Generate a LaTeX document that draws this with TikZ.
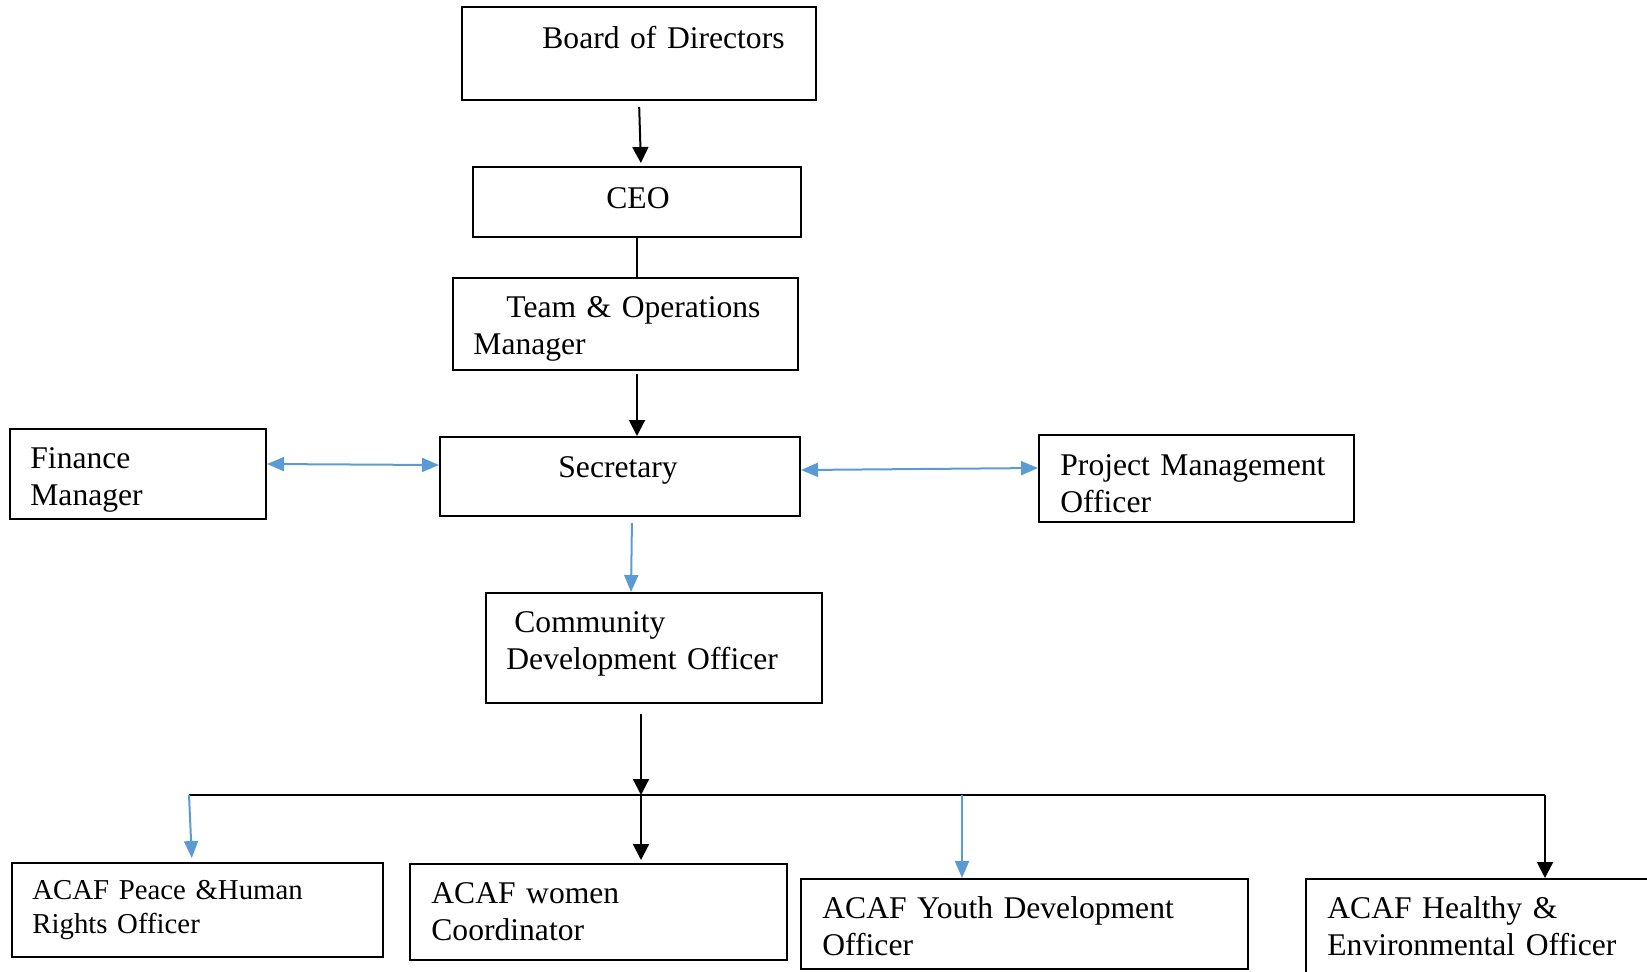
\documentclass[tikz,border=0pt]{standalone}
\usepackage{fontspec}
\setmainfont{Liberation Serif}
\usetikzlibrary{arrows.meta,fit}
\definecolor{wordblue}{RGB}{91,155,213}

\begin{document}
\begin{tikzpicture}[x=0.5pt,y=-0.5pt,
  orgbox/.style={draw,line width=1pt,inner sep=0pt},
  orgtext/.style={anchor=base west,inner sep=0pt,text width=250pt,align=left,font=\fontsize{15.8}{18.5}\selectfont},
  toarrow/.style={line width=1pt,>={Triangle[length=8pt,width=8pt]},->},
  bluearrow/.style={wordblue,line width=1pt,>={Triangle[length=8.5pt,width=7pt]}}]
      \clip (0,0) rectangle (1647,971);

      \node[orgbox,fit={(462,7) (816,100)}] (A) {};
      \node[orgbox,fit={(473,167) (801,237)}] (B) {};
      \node[orgbox,fit={(453,278) (798,370)}] (C) {};
      \node[orgbox,fit={(10,429) (266,519)}] (D) {};
      \node[orgbox,fit={(440,437) (800,516)}] (E) {};
      \node[orgbox,fit={(1039,435) (1354,522)}] (F) {};
      \node[orgbox,fit={(486,593) (822,703)}] (G) {};
      \node[orgbox,fit={(12,863) (383,957)}] (H) {};
      \node[orgbox,fit={(410,864) (787,960)}] (I) {};
      \node[orgbox,fit={(801,879) (1248,969)}] (J) {};
      \node[orgbox,fit={(1306,879) (1700,1010)}] (K) {};

      \node[orgtext] (a) at (542,48) {Board of Directors};
      \node[orgtext] (b) at (606,208) {CEO};
      \node[orgtext] (c) at (473,317) {\hspace*{16.5pt}Team \& Operations\\Manager};
      \node[orgtext] (d) at (30,468) {Finance\\Manager};
      \node[orgtext] (e) at (558,477) {Secretary};
      \node[orgtext] (f) at (1060,475) {Project Management\\Officer};
      \node[orgtext] (g) at (506,632) {\hspace*{4pt}Community\\Development Officer};
      \node[orgtext,font=\fontsize{14.4}{17}\selectfont] (h) at (32,899) {ACAF Peace \&Human\\Rights Officer};
      \node[orgtext] (i) at (431,903) {ACAF women\\Coordinator};
      \node[orgtext] (j) at (822,918) {ACAF Youth Development\\Officer};
      \node[orgtext] (k) at (1327,918) {ACAF Healthy \&\\Environmental Officer};

      \coordinate (L) at (189,795);
      \coordinate (M) at (641,795);
      \coordinate (N) at (962,795);
      \coordinate (R) at (1545,795);

      \draw[toarrow,shorten <=3pt,shorten >=1.5pt] (A.south) -- ([xshift=2pt]B.north);
      \draw[line width=1pt] (B.south) -- (C.north -| B.south);
      \draw[toarrow,shorten <=1.5pt] (C.south -| B.south) -- (E.north -| B.south);
      \draw[bluearrow,<->] ([yshift=5pt]D.east) -- ([yshift=5.75pt]E.west);
      \draw[bluearrow,<->] ([yshift=3.25pt]E.east) -- ([yshift=5.25pt]F.west);
      \draw[bluearrow,->,shorten <=3pt] ([xshift=6pt]E.south) -- ([xshift=-11.5pt]G.north);
      \draw[toarrow,shorten <=5pt] (M |- G.south) -- (M);
      \draw[line width=1pt] (L) -- (R);
      \draw[bluearrow,->,shorten >=2pt] (L) -- ([xshift=-2.75pt]H.north);
      \draw[toarrow,shorten >=1.5pt] (M) -- (M |- I.north);
      \draw[bluearrow,->] (N) -- (N |- J.north);
      \draw[toarrow] (R) -- (R |- K.north);
     \end{tikzpicture}
\end{document}
